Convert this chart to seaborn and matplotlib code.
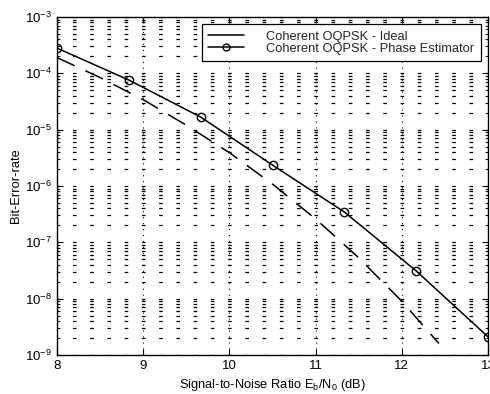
import numpy as np
import pandas as pd
import matplotlib
matplotlib.use("Agg")
import matplotlib.pyplot as plt
import seaborn as sns
from matplotlib.ticker import LogLocator, MultipleLocator, FixedLocator
from matplotlib.lines import Line2D

# Data
snr_ideal = [8.0, 8.5, 9.0, 9.5, 10.0, 10.5, 11.0, 11.5, 12.0, 12.43]
ber_ideal = [1.9e-4, 8.4e-5, 3.4e-5, 1.2e-5, 3.9e-6, 1.08e-6, 2.6e-7, 5.3e-8, 9.0e-9, 1.6e-9]

snr_est = [8.0, 8.833, 9.667, 10.5, 11.333, 12.167, 13.0]
ber_est = [2.8e-4, 7.6e-5, 1.67e-5, 2.35e-6, 3.45e-7, 3.1e-8, 2.1e-9]

labels = ["Coherent OQPSK - Ideal", "Coherent OQPSK - Phase Estimator"]
xticks = [8, 9, 10, 11, 12, 13]

sns.set_theme(style="white")
plt.rcParams['font.family'] = ['Liberation Sans', 'DejaVu Sans']
plt.rcParams['mathtext.fontset'] = 'custom'
plt.rcParams['mathtext.rm'] = 'Liberation Sans'
plt.rcParams['mathtext.it'] = 'Liberation Sans'
plt.rcParams['lines.scale_dashes'] = False

W, H = 4.9, 3.94
fig = plt.figure(figsize=(W, H), dpi=100)
ax_left, ax_right = 0.1163, 0.996
ax = fig.add_axes([ax_left, 0.099, ax_right - ax_left, 0.957 - 0.099])

df_i = pd.DataFrame({"x": snr_ideal, "y": ber_ideal})
df_e = pd.DataFrame({"x": snr_est, "y": ber_est})

sns.lineplot(data=df_i, x="x", y="y", ax=ax, color="black", lw=1.1,
             dashes=False, legend=False)
ax.lines[-1].set_dashes([14, 8.5])
sns.lineplot(data=df_e, x="x", y="y", ax=ax, color="black", lw=1.1,
             marker="o", markersize=6, markerfacecolor="none",
             markeredgecolor="black", markeredgewidth=1.0, legend=False)

ax.set_yscale("log")
ax.set_xlim(8, 13)
ax.set_ylim(1e-9, 1e-3)
ax.xaxis.set_major_locator(FixedLocator(xticks))
ax.set_xticklabels([str(t) for t in xticks])
ax.xaxis.set_minor_locator(MultipleLocator(0.2))
ax.yaxis.set_major_locator(LogLocator(base=10, numticks=20))
ax.yaxis.set_minor_locator(LogLocator(base=10, subs=np.arange(2, 10), numticks=20))

# MATLAB-like grid: short marks where horizontal lines cross the 0.2 columns
axes_w_pt = (ax_right - ax_left) * W * 72
period = axes_w_pt / 25.0
on = 2.6
hstyle = (on / 2, (on, period - on))
ax.grid(True, which="both", axis="y", color="black", linestyle=hstyle, lw=0.9)
ax.grid(True, which="major", axis="x", color="black", linestyle=(0, (0.8, 3.5)), lw=0.8)

ax.tick_params(which="both", direction="in", top=True, right=True, bottom=True, left=True,
               labelsize=9.5, colors="black")
ax.tick_params(which="major", length=4, width=0.8)
ax.tick_params(which="minor", length=2, width=0.6)
ax.tick_params(axis="x", which="minor", length=0)
for s in ax.spines.values():
    s.set_color("black")
    s.set_linewidth(1.0)

ax.set_xlabel("Signal-to-Noise Ratio E$_b$/N$_0$ (dB)", fontsize=9.3, color="black", labelpad=4)
ax.set_ylabel("Bit-Error-rate", fontsize=9.3, color="black", labelpad=2)

handles = [
    Line2D([], [], color="black", lw=1.1),
    Line2D([], [], color="black", lw=1.1, marker="o", markersize=5,
           markerfacecolor="none", markeredgecolor="black"),
]
leg = ax.legend(handles, labels, loc="upper right", fontsize=9.3, frameon=True, fancybox=False,
                edgecolor="black", framealpha=1, borderpad=0.5, handlelength=2.8,
                labelspacing=0.0, borderaxespad=0.55, handletextpad=1.7)
leg.get_frame().set_linewidth(0.9)

fig.savefig("out.png", dpi=100, facecolor="white")
